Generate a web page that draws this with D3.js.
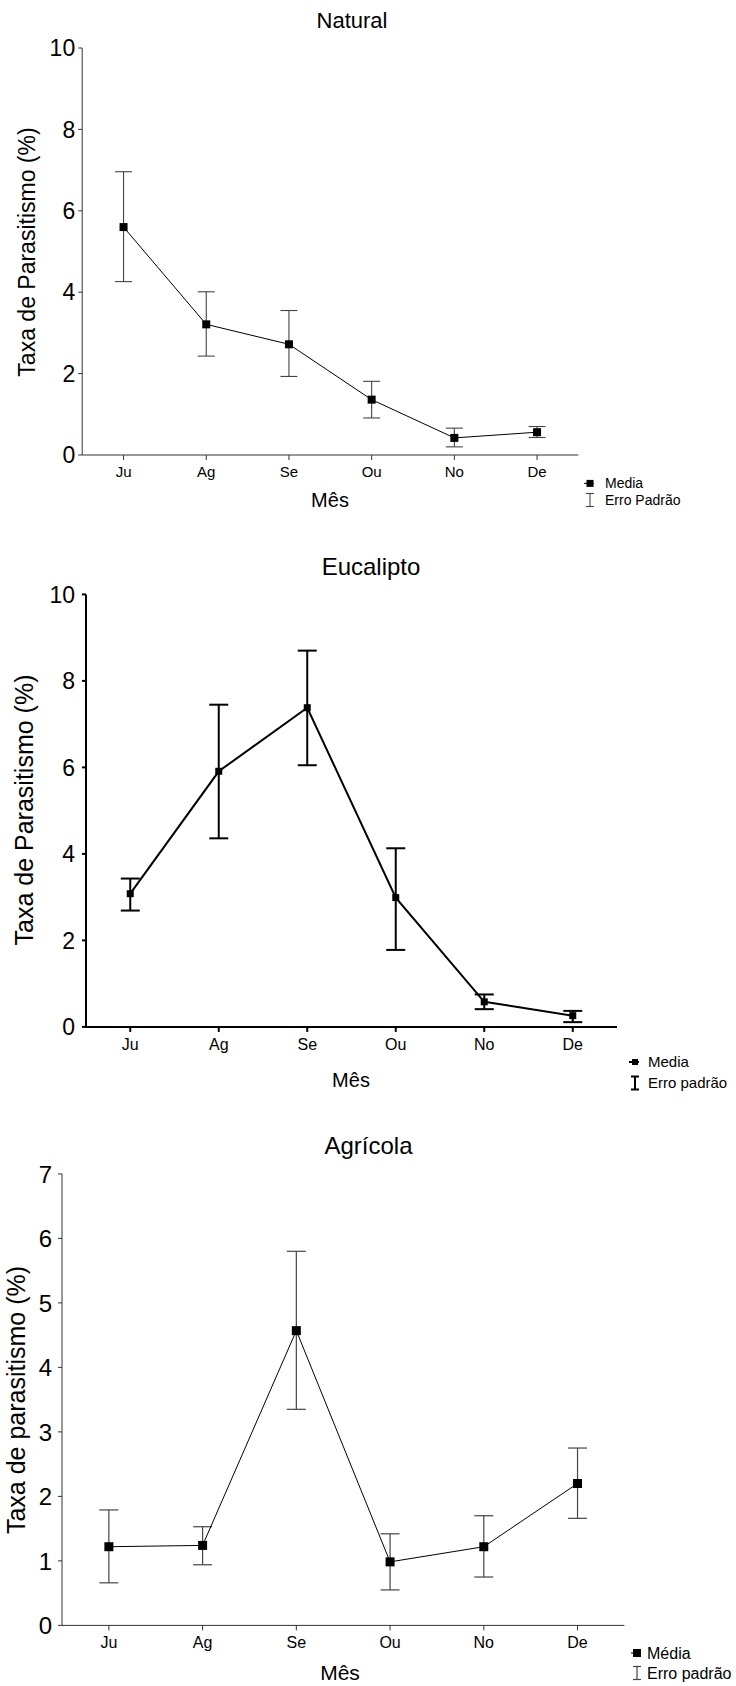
<!DOCTYPE html>
<html><head><meta charset="utf-8">
<script src="https://cdn.jsdelivr.net/npm/d3@7"></script>
<style>body{margin:0;background:#fff}svg{display:block}text{font-family:"Liberation Sans",Arial,sans-serif;fill:#000}</style>
</head><body><svg id="c" width="736" height="1686"></svg>
<script>
const months = ["Ju","Ag","Se","Ou","No","De"];
// Natural
const natMean  = [5.60, 3.21, 2.72, 1.36, 0.42, 0.56];
const natUpper = [6.96, 4.01, 3.55, 1.81, 0.66, 0.70];
const natLower = [4.26, 2.43, 1.93, 0.91, 0.20, 0.43];
const natTicks = [0,2,4,6,8,10];
// Eucalipto
const eucMean  = [3.08, 5.91, 7.38, 2.99, 0.58, 0.26];
const eucUpper = [3.43, 7.45, 8.70, 4.13, 0.75, 0.37];
const eucLower = [2.69, 4.36, 6.05, 1.78, 0.41, 0.11];
const eucTicks = [0,2,4,6,8,10];
// Agrícola
const agrMean  = [1.22, 1.24, 4.57, 0.985, 1.22, 2.20];
const agrUpper = [1.79, 1.53, 5.80, 1.42, 1.70, 2.75];
const agrLower = [0.66, 0.94, 3.35, 0.55, 0.75, 1.66];
const agrTicks = [0,1,2,3,4,5,6,7];

const svg = d3.select("#c");

function panel(o){
  const g = svg.append("g");
  const x = d3.scaleBand().domain(months).range([o.left, o.right]).paddingInner(0).paddingOuter(0);
  const y = d3.scaleLinear().domain(o.domain).range([o.bottom, o.top]);
  const cx = d => x(d) + x.bandwidth()/2;
  // axes lines
  g.append("line").attr("x1",o.left).attr("x2",o.left).attr("y1",o.top).attr("y2",o.bottom)
    .attr("stroke",o.axisColor).attr("stroke-width",o.axisW);
  g.append("line").attr("x1",o.left).attr("x2",o.right).attr("y1",o.bottom).attr("y2",o.bottom)
    .attr("stroke",o.axisColor).attr("stroke-width",o.axisW);
  // y ticks
  o.ticks.forEach(t=>{
    g.append("line").attr("x1",o.left-4).attr("x2",o.left).attr("y1",y(t)).attr("y2",y(t))
      .attr("stroke",o.axisColor).attr("stroke-width",o.axisW);
    g.append("text").attr("x",o.left-o.yLabGap).attr("y",y(t)).attr("dy","0.36em")
      .attr("text-anchor","end").attr("font-size",o.yTickFont).text(t);
  });
  // x ticks
  months.forEach(m=>{
    g.append("line").attr("x1",cx(m)).attr("x2",cx(m)).attr("y1",o.bottom).attr("y2",o.bottom+5)
      .attr("stroke",o.axisColor).attr("stroke-width",o.axisW);
    g.append("text").attr("x",cx(m)).attr("y",o.xLabY).attr("dy","0.36em")
      .attr("text-anchor","middle").attr("font-size",o.xTickFont).text(m);
  });
  // titles
  g.append("text").attr("x",o.titleX).attr("y",o.titleY).attr("dy","0.36em").attr("text-anchor","middle")
    .attr("font-size",o.titleFont).text(o.title);
  g.append("text").attr("transform",`translate(${o.ylabX},${o.ylabY}) rotate(-90)`).attr("dy","0.36em")
    .attr("text-anchor","middle").attr("font-size",o.ylabFont).text(o.ylab);
  g.append("text").attr("x",o.xlabX).attr("y",o.xlabY).attr("dy","0.36em").attr("text-anchor","middle")
    .attr("font-size",o.xlabFont).text("Mês");
  // error bars
  months.forEach((m,i)=>{
    const X = cx(m);
    g.append("line").attr("x1",X).attr("x2",X).attr("y1",y(o.upper[i])).attr("y2",y(o.lower[i]))
      .attr("stroke",o.errColor).attr("stroke-width",o.errW);
    [o.upper[i], o.lower[i]].forEach(v=>{
      g.append("line").attr("x1",X-o.cap).attr("x2",X+o.cap).attr("y1",y(v)).attr("y2",y(v))
        .attr("stroke",o.errColor).attr("stroke-width",o.errW);
    });
  });
  // mean line
  const line = d3.line().x((d,i)=>cx(months[i])).y(d=>y(d));
  g.append("path").datum(o.mean).attr("d",line).attr("fill","none").attr("stroke","#000").attr("stroke-width",o.lineW);
  g.selectAll(null).data(o.mean).enter().append("rect")
    .attr("x",(d,i)=>cx(months[i])-o.ms/2).attr("y",d=>y(d)-o.ms/2)
    .attr("width",o.ms).attr("height",o.ms).attr("fill","#000");
  // legend
  const L = o.leg;
  g.append("line").attr("x1",L.x-6).attr("x2",L.x+4).attr("y1",L.y1).attr("y2",L.y1).attr("stroke","#000").attr("stroke-width",o.lineW);
  g.append("rect").attr("x",L.x-L.ms/2).attr("y",L.y1-L.ms/2).attr("width",L.ms).attr("height",L.ms).attr("fill","#000");
  g.append("line").attr("x1",L.x).attr("x2",L.x).attr("y1",L.y2-6.5).attr("y2",L.y2+6.5).attr("stroke",o.errColor).attr("stroke-width",o.errW);
  [L.y2-6.5, L.y2+6.5].forEach(v=>g.append("line").attr("x1",L.x-4).attr("x2",L.x+4).attr("y1",v).attr("y2",v).attr("stroke",o.errColor).attr("stroke-width",o.errW));
  g.append("text").attr("x",L.tx).attr("y",L.y1).attr("dy","0.36em").attr("font-size",L.font).text(L.t1);
  g.append("text").attr("x",L.tx).attr("y",L.y2).attr("dy","0.36em").attr("font-size",L.font).text(L.t2);
}

panel({left:82.2,right:578.4,top:48,bottom:455,domain:[0,10],ticks:natTicks,
  mean:natMean,upper:natUpper,lower:natLower,axisColor:"#333",axisW:1,yLabGap:7,yTickFont:23,
  xLabY:471.6,xTickFont:15,title:"Natural",titleX:352,titleY:20,titleFont:22,
  ylab:"Taxa de Parasitismo (%)",ylabX:27,ylabY:252,ylabFont:23,xlabX:330,xlabY:500,xlabFont:20,
  errColor:"#444",errW:1.1,cap:8.5,lineW:1,ms:8,
  leg:{x:590,y1:483.4,y2:500,tx:605,font:14,ms:7,t1:"Media",t2:"Erro Padrão"}});

panel({left:86,right:617,top:594.4,bottom:1026.9,domain:[0,10],ticks:eucTicks,
  mean:eucMean,upper:eucUpper,lower:eucLower,axisColor:"#000",axisW:2,yLabGap:11,yTickFont:23,
  xLabY:1044,xTickFont:16,title:"Eucalipto",titleX:371,titleY:566,titleFont:24,
  ylab:"Taxa de Parasitismo (%)",ylabX:24.4,ylabY:810,ylabFont:25,xlabX:351,xlabY:1080,xlabFont:20,
  errColor:"#000",errW:2,cap:9.5,lineW:2,ms:7,
  leg:{x:635,y1:1062,y2:1083,tx:648,font:15,ms:6,t1:"Media",t2:"Erro padrão"}});

panel({left:62,right:624.4,top:1173.9,bottom:1625.4,domain:[0,7],ticks:agrTicks,
  mean:agrMean,upper:agrUpper,lower:agrLower,axisColor:"#333",axisW:1,yLabGap:10,yTickFont:24,
  xLabY:1642.7,xTickFont:16,title:"Agrícola",titleX:368.5,titleY:1145,titleFont:24,
  ylab:"Taxa de parasitismo (%)",ylabX:16.4,ylabY:1400,ylabFont:25,xlabX:340,xlabY:1672,xlabFont:21,
  errColor:"#444",errW:1.2,cap:9.5,lineW:1,ms:9,
  leg:{x:637,y1:1653,y2:1673,tx:647,font:16,ms:8,t1:"Média",t2:"Erro padrão"}});
</script></body></html>
